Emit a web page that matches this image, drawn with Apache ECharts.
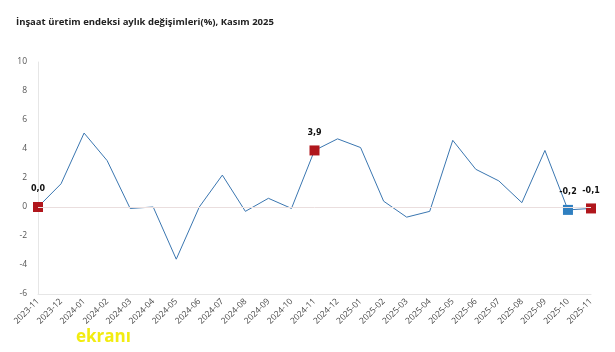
<!DOCTYPE html>
<html><head><meta charset="utf-8">
<script src="https://cdn.jsdelivr.net/npm/echarts@6/dist/echarts.min.js"></script>
<style>html,body{margin:0;padding:0;background:#fff}#c{width:615px;height:352px}</style>
</head><body><div id="c"></div>
<script>
const categories = ['2023-11','2023-12','2024-01','2024-02','2024-03','2024-04','2024-05','2024-06','2024-07','2024-08','2024-09','2024-10','2024-11','2024-12','2025-01','2025-02','2025-03','2025-04','2025-05','2025-06','2025-07','2025-08','2025-09','2025-10','2025-11'];
const values = [0.0,1.6,5.1,3.2,-0.1,0.0,-3.6,0.0,2.2,-0.3,0.6,-0.1,3.9,4.7,4.1,0.4,-0.7,-0.3,4.6,2.6,1.8,0.3,3.9,-0.2,-0.1];
const yTicks = [-6,-4,-2,0,2,4,6,8,10];
const redIdx = [0,12,24];
const blueIdx = [23];

const data = values.map((v,i)=>{
  if (redIdx.includes(i) || blueIdx.includes(i)) {
    return {value:v, symbol:'rect', symbolSize:10,
      itemStyle:{color: redIdx.includes(i)?'#b0161c':'#2f7fc0'},
      label:{show:true, position:'top', distance:9, formatter:(p)=>p.value.toFixed(1).replace('.',','),
        fontSize:8, fontWeight:'bold', color:'#111', fontFamily:'DejaVu Sans'}};
  }
  return {value:v, symbol:'none'};
});

const chart = echarts.init(document.getElementById('c'));
chart.setOption({
  animation:false,
  title:{text:'İnşaat üretim endeksi aylık değişimleri(%), Kasım 2025', left:11, top:12,
    textStyle:{fontSize:9.5, fontWeight:'bold', color:'#222', fontFamily:'Open Sans'}},
  grid:{left:38, right:24, top:62, bottom:58},
  xAxis:{type:'category', data:categories, boundaryGap:false,
    axisLine:{onZero:false, lineStyle:{color:'#e6e6e6'}}, axisTick:{show:false},
    axisLabel:{rotate:45, fontSize:8.5, color:'#444', margin:6, interval:0, fontFamily:'Open Sans'},
    splitLine:{show:false}},
  yAxis:{type:'value', min:-6, max:10, interval:2,
    axisLine:{show:true, lineStyle:{color:'#e6e6e6'}}, axisTick:{show:false},
    axisLabel:{fontSize:8.5, color:'#555', margin:11, fontFamily:'Open Sans',
      formatter:(v)=>yTicks.includes(v)?String(v):''},
    splitLine:{show:false}},
  series:[{type:'line', data:data, showSymbol:true,
    lineStyle:{color:'#3a76b0', width:1},
    itemStyle:{color:'#3a76b0'},
    markLine:{silent:true, symbol:'none', label:{show:false},
      lineStyle:{color:'#eadede', width:1, type:'solid'}, data:[{yAxis:0}]},
    z:3}],
  graphic:[{type:'text', left:76, top:329, style:{text:'ekranı', fill:'#f2ec10', font:'bold 17px Open Sans'}}]
});
</script></body></html>
